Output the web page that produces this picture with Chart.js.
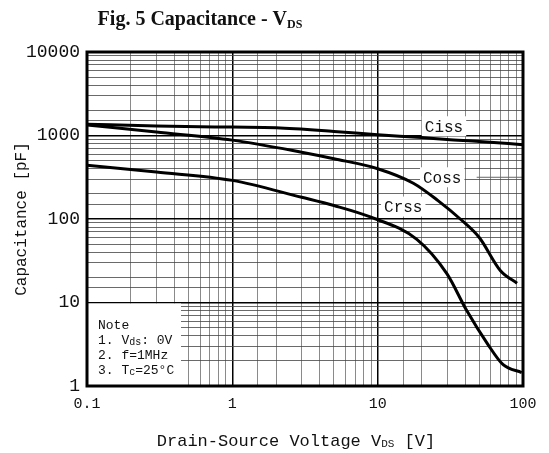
<!DOCTYPE html>
<html>
<head>
<meta charset="utf-8">
<script src="https://cdn.jsdelivr.net/npm/chart.js@4.4.0/dist/chart.umd.min.js"></script>
<style>
  html, body { margin: 0; padding: 0; background: #fff; }
  canvas { display: block; }
</style>
</head>
<body>
<canvas id="capChart" width="549" height="453"></canvas>
<script>
// values (V, pF)
const cissV = [0.1, 0.3, 1, 2, 5, 10, 20, 30, 50, 100];
const cissC = [1365, 1300, 1260, 1240, 1120, 1020, 945, 895, 850, 775];

const cossV = [0.1, 0.3, 1, 3, 5, 10, 17.6, 26, 37, 50, 70, 91];
const cossC = [1340, 1100, 880, 630, 527, 400, 268, 166, 100, 60, 24, 17];

const crssV = [0.1, 0.3, 1, 3, 5, 9, 18.6, 30, 41, 57, 73, 98];
const crssC = [440, 365, 290, 182, 145, 105, 57, 22, 8, 3.2, 1.8, 1.45];

const xTicks = [0.1, 1, 10, 100];
const yTicks = [1, 10, 100, 1000, 10000];

// curve labels: [text, V, pF]
const curveLabels = [
    ['Ciss', 28.6, 1290],
    ['Coss', 27.8, 316],
    ['Crss', 15, 141]
];

const noteLines = [
    [['Note', 0]],
    [['1. V', 0], ['ds', 1], [': 0V', 0]],
    [['2. f=1MHz', 0]],
    [['3. T', 0], ['c', 1], ['=25\u00b0C', 0]]
];

function isDecade(v) {
    const l = Math.log10(v);
    return Math.abs(l - Math.round(l)) < 1e-6;
}

function pts(xs, ys) {
    return xs.map((x, i) => ({ x: x, y: ys[i] }));
}

// draws text made of pieces, small pieces shifted down like subscripts
function drawParts(ctx, parts, x, y, align) {
    let total = 0;
    parts.forEach(p => { ctx.font = p[1]; total += ctx.measureText(p[0]).width; });
    let cx = align === 'center' ? x - total / 2 : x;
    ctx.textAlign = 'left';
    ctx.textBaseline = 'alphabetic';
    parts.forEach(p => {
        ctx.font = p[1];
        ctx.fillText(p[0], cx, y + (p[2] || 0));
        cx += ctx.measureText(p[0]).width;
    });
}

const decorations = {
    id: 'decorations',
    beforeDatasetsDraw(chart) {
        const ctx = chart.ctx;
        const xs = chart.scales.x, ys = chart.scales.y;
        const area = chart.chartArea;
        ctx.save();
        // note box
        const boxTop = ys.getPixelForValue(10) + 1;
        ctx.fillStyle = '#fff';
        ctx.fillRect(area.left + 1, boxTop, 93, area.bottom - boxTop - 1);
        ctx.fillStyle = '#111';
        const mono = '"Liberation Mono", monospace';
        noteLines.forEach((line, i) => {
            const parts = line.map(p => [p[0], (p[1] ? '10px ' : '13px ') + mono, p[1] ? 1 : 0]);
            drawParts(ctx, parts, area.left + 11, boxTop + 25 + i * 15, 'left');
        });
        // curve labels
        ctx.font = '16px ' + mono;
        curveLabels.forEach(l => {
            const px = xs.getPixelForValue(l[1]);
            const py = ys.getPixelForValue(l[2]);
            const w = ctx.measureText(l[0]).width;
            ctx.fillStyle = '#fff';
            ctx.fillRect(px - w / 2 - 3, py - 10, w + 6, 20);
            ctx.fillStyle = '#111';
            ctx.textAlign = 'center';
            ctx.textBaseline = 'middle';
            ctx.fillText(l[0], px, py + 1);
        });
        // Coss leader line
        ctx.strokeStyle = '#666';
        ctx.lineWidth = 1;
        ctx.beginPath();
        ctx.moveTo(xs.getPixelForValue(48), ys.getPixelForValue(316));
        ctx.lineTo(area.right, ys.getPixelForValue(316));
        ctx.stroke();
        ctx.restore();
    },
    afterDraw(chart) {
        const ctx = chart.ctx;
        const area = chart.chartArea;
        ctx.save();
        ctx.strokeStyle = '#000';
        ctx.lineWidth = 3;
        ctx.strokeRect(area.left, area.top, area.right - area.left, area.bottom - area.top);
        ctx.fillStyle = '#111';
        drawParts(ctx, [
            ['Fig. 5 Capacitance - V', 'bold 20px "Liberation Serif", serif'],
            ['DS', 'bold 12px "Liberation Serif", serif', 3]
        ], 200, 25, 'center');
        const mono = '"Liberation Mono", monospace';
        drawParts(ctx, [
            ['Drain-Source Voltage V', '17px ' + mono],
            ['DS', '11px ' + mono, 1],
            [' [V]', '17px ' + mono]
        ], 296, 446, 'center');
        ctx.translate(22, (area.top + area.bottom) / 2);
        ctx.rotate(-Math.PI / 2);
        ctx.font = '16px ' + mono;
        ctx.textAlign = 'center';
        ctx.textBaseline = 'middle';
        ctx.fillText('Capacitance [pF]', 0, 0);
        ctx.restore();
    }
};

const lineStyle = {
    borderColor: '#000',
    borderWidth: 3,
    pointRadius: 0,
    fill: false,
    cubicInterpolationMode: 'monotone'
};

const data = {
    datasets: [
        Object.assign({ label: 'Ciss', data: pts(cissV, cissC) }, lineStyle),
        Object.assign({ label: 'Coss', data: pts(cossV, cossC) }, lineStyle),
        Object.assign({ label: 'Crss', data: pts(crssV, crssC) }, lineStyle)
    ]
};

const config = {
    type: 'line',
    data: data,
    options: {
        responsive: false,
        animation: false,
        layout: { padding: { top: 52, right: 26, left: 0, bottom: 0 } },
        plugins: {
            legend: { display: false },
            tooltip: { enabled: false }
        },
        scales: {
            x: {
                type: 'logarithmic',
                min: xTicks[0],
                max: xTicks[xTicks.length - 1],
                afterFit: s => { s.height = 67; },
                grid: {
                    drawTicks: false,
                    color: c => isDecade(c.tick.value) ? '#000' : '#8a8a8a',
                    lineWidth: c => isDecade(c.tick.value) ? 1.5 : 1
                },
                border: { display: false },
                ticks: {
                    autoSkip: false,
                    maxRotation: 0,
                    padding: 9,
                    color: '#111',
                    font: { family: 'Liberation Mono', size: 15 },
                    callback: v => xTicks.some(t => Math.abs(t - v) < 1e-9) ? (v < 1 ? v.toFixed(1) : String(Math.round(v))) : ''
                }
            },
            y: {
                type: 'logarithmic',
                min: yTicks[0],
                max: yTicks[yTicks.length - 1],
                afterFit: s => { s.width = 87; },
                grid: {
                    drawTicks: false,
                    color: c => isDecade(c.tick.value) ? '#000' : '#444',
                    lineWidth: c => isDecade(c.tick.value) ? 1.5 : 0.8
                },
                border: { display: false },
                ticks: {
                    autoSkip: false,
                    padding: 7,
                    color: '#111',
                    font: { family: 'Liberation Mono', size: 18 },
                    callback: v => yTicks.some(t => Math.abs(t - v) < 1e-9) ? String(Math.round(v)) : ''
                }
            }
        }
    },
    plugins: [decorations]
};

const capChart = new Chart(document.getElementById('capChart'), config);
</script>
</body>
</html>
